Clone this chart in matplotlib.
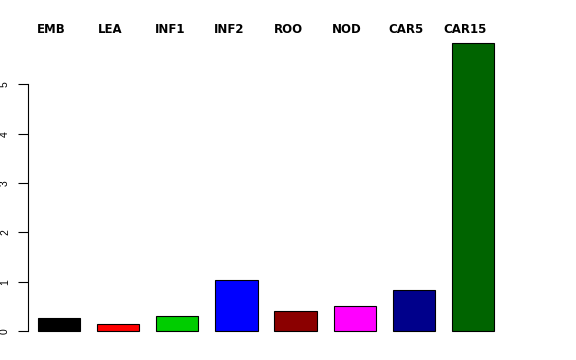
import matplotlib
matplotlib.use("Agg")
import matplotlib.pyplot as plt

# Du lieu
labels = ["EMB", "LEA", "INF1", "INF2", "ROO", "NOD", "CAR5", "CAR15"]
values = [0.26, 0.14, 0.30, 1.03, 0.40, 0.51, 0.83, 5.83]
colors = ["black", "red", "#00CD00", "blue", "#8B0000", "magenta", "#00008B", "#006400"]

plt.rcParams['font.family'] = ['Liberation Sans', 'DejaVu Sans']

W, H = 576, 360
top, bottom = 32, 342.5
fig = plt.figure(figsize=(W / 100, H / 100), dpi=100)
ax = fig.add_axes([28 / W, 1 - bottom / H, (512 - 28) / W, (bottom - top) / H])

# vi tri cot kieu barplot cua R (width 1, space 0.4)
x = [0.4 + 1.4 * i + 0.5 for i in range(len(values))]
ax.bar(x, values, width=1.0, color=colors, edgecolor="black", linewidth=0.8)

ax.set_xlim(0.163, 11.627)
ax.set_ylim(-0.233, 6.06)

# nhan o phia tren (hoi lech trai so voi cot)
for xi, lab in zip(x, labels):
    ax.text(xi - 0.18, 1 + (top - 29.5) / (bottom - top), lab,
            transform=ax.get_xaxis_transform(),
            ha="center", va="center", fontsize=8.5, fontweight="bold",
            family="DejaVu Sans")

for s in ["top", "right", "bottom"]:
    ax.spines[s].set_visible(False)
ax.spines["left"].set_bounds(0, 5)
ax.spines["left"].set_linewidth(0.8)
ax.set_xticks([])
ax.set_yticks(range(6))
ax.set_yticklabels([str(i) for i in range(6)], rotation=90, va="center", fontsize=7.5)
ax.tick_params(axis="y", length=7, width=0.8, pad=6)

fig.savefig("out.png", dpi=100)
